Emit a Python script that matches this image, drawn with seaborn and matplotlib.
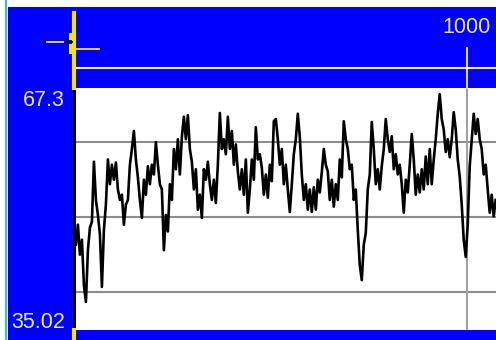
import numpy as np
import pandas as pd
import seaborn as sns
import matplotlib
matplotlib.use('Agg')
import matplotlib.pyplot as plt
from matplotlib import font_manager
from matplotlib.patches import Rectangle

# trace values, one sample every ~5 x-units
values = [45.6, 49.7, 46.3, 49.0, 45.0, 47.0, 40.9, 38.7, 45.6, 48.6,
          49.4, 57.4, 52.3, 50.3, 47.7, 40.7, 48.3, 51.7, 57.7, 54.4,
          57.0, 55.0, 57.3, 53.7, 52.3, 53.0, 49.0, 51.7, 52.3, 57.0,
          59.1, 61.5, 57.7, 55.3, 52.3, 49.9, 55.0, 53.0, 56.8, 54.4,
          57.0, 55.7, 60.0, 57.0, 54.4, 53.7, 45.6, 50.3, 48.1, 54.4,
          52.3, 59.1, 56.4, 60.4, 55.7, 60.7, 63.4, 60.4, 63.6, 59.1,
          57.4, 53.7, 56.4, 51.0, 53.0, 49.9, 56.4, 55.0, 57.4, 54.4,
          52.3, 55.0, 51.9, 57.0, 63.9, 59.1, 60.4, 58.4, 63.4, 59.1,
          61.5, 57.0, 59.7, 56.1, 53.7, 56.4, 53.0, 57.7, 50.6, 53.7,
          57.7, 55.0, 62.0, 57.7, 58.4, 56.6, 53.0, 55.7, 52.6, 57.0,
          54.8, 62.8, 63.1, 60.4, 57.0, 59.1, 54.4, 57.0, 53.7, 50.7,
          54.4, 58.4, 60.4, 63.8, 60.7, 55.7, 52.3, 54.4, 51.0, 53.7,
          50.7, 54.0, 51.0, 55.0, 53.3, 56.0, 59.1, 57.0, 56.1, 52.3,
          55.0, 51.4, 54.4, 52.3, 57.7, 55.3, 62.8, 60.4, 59.1, 56.4,
          57.0, 52.3, 53.7, 48.3, 43.6, 41.6, 46.3, 47.9, 53.7, 55.7,
          62.7, 59.1, 54.4, 56.4, 53.7, 56.8, 59.1, 63.1, 60.4, 58.7,
          60.8, 56.4, 58.4, 55.7, 57.0, 54.4, 50.6, 55.0, 53.3, 57.0,
          61.1, 57.7, 53.0, 55.7, 53.3, 56.4, 53.7, 58.1, 54.4, 59.1,
          54.4, 57.7, 60.4, 63.8, 66.4, 63.1, 61.7, 58.7, 60.4, 58.0,
          60.4, 64.0, 61.7, 57.7, 55.4, 51.7, 47.0, 44.7, 49.0, 56.8,
          60.4, 63.8, 61.1, 63.1, 60.4, 59.1, 55.7, 57.0, 53.7, 50.6,
          53.0, 50.1, 52.3]
x_start = -4.0
x_step = 5.08

y_low = 35.02
y_high = 67.3
x_max = 1073.7
grid_levels = [40, 50, 60]
marker_x = 1000

BLUE = '#0000ff'
YELLOW = '#f5e600'
LABEL = '#e8e8ff'

df = pd.DataFrame({'x': x_start + x_step * np.arange(len(values)), 'value': values})

names = {f.name for f in font_manager.fontManager.ttflist}
if 'Liberation Sans Narrow' in names:
    fam, fsize = 'Liberation Sans Narrow', 18
else:
    fam, fsize = 'Liberation Sans', 15.5

W, H = 496, 340
fig = plt.figure(figsize=(W / 100, H / 100), dpi=100, facecolor=BLUE)

# plot area in pixels: x 73.5..496, y 87.5..329.5
top_px, bot_px, left_px = 87.5, 329.5, 73.5
ax_h = bot_px - top_px
ax = fig.add_axes([left_px / W, (H - bot_px) / H, (W - left_px) / W, ax_h / H])
ax.set_facecolor('white')

for lvl in grid_levels:
    ax.axhline(lvl, color='#8c8c8c', lw=1.5, zorder=1)
ax.axvline(marker_x, color='#a0a0a0', lw=1.5, zorder=1)
ax.axvline(marker_x, ymin=1, ymax=(bot_px - 48) / ax_h, color='#d4d4d4', lw=1.5, clip_on=False)
hy = (bot_px - 68) / ax_h
ax.plot([0, 1], [hy, hy], transform=ax.transAxes, color='#f4f4ff', lw=1.5, clip_on=False)

sns.lineplot(data=df, x='x', y='value', color='black', lw=1.9, ax=ax, zorder=3)

ax.set_xlim(0, x_max)
ax.set_ylim(y_low, y_high)
ax.set_xticks([])
ax.set_yticks([])
ax.set_xlabel('')
ax.set_ylabel('')
for s in ax.spines.values():
    s.set_visible(False)

# axis line + yellow cursor line
ax.axvline(0, color='black', lw=2.2, clip_on=False, zorder=4)
ax.axvline(0, ymin=1, ymax=(bot_px - 13) / ax_h, color=YELLOW, lw=3, clip_on=False, zorder=4)
ax.axvline(0, ymin=(bot_px - H) / ax_h, ymax=0, color=YELLOW, lw=3, clip_on=False, zorder=4)

# frame decorations in pixel coordinates
deco = fig.add_axes([0, 0, 1, 1], zorder=5)
deco.set_xlim(0, W)
deco.set_ylim(H, 0)
deco.axis('off')
deco.add_patch(Rectangle((0, 0), W, 7, color='white', lw=0))
deco.add_patch(Rectangle((0, 0), 8, H, color='white', lw=0))
deco.add_patch(Rectangle((5, 0), 2.2, H, color='#30b8f0', lw=0))

deco.plot([47, 65], [42, 42], color=YELLOW, lw=1.3)
deco.plot([65, 72], [42, 42], color='black', lw=1.3)
deco.plot([75, 99], [48.5, 48.5], color=YELLOW, lw=1.3)
deco.add_patch(Rectangle((69, 33), 3, 7, color=YELLOW, lw=0))
deco.add_patch(Rectangle((69, 44), 7, 3, color=YELLOW, lw=0))
deco.add_patch(Rectangle((69, 44), 3, 10, color=YELLOW, lw=0))

deco.text(65, 106, f'{y_high:g}', ha='right', va='baseline', color=LABEL,
          fontsize=fsize, family=fam)
deco.text(65, 328, f'{y_low:g}', ha='right', va='baseline', color=LABEL,
          fontsize=fsize, family=fam)
deco.text(left_px + marker_x / x_max * (W - left_px), 33, f'{marker_x}', ha='center',
          va='baseline', color=LABEL, fontsize=fsize, family=fam)

fig.savefig('out.png', dpi=100, facecolor=BLUE)
